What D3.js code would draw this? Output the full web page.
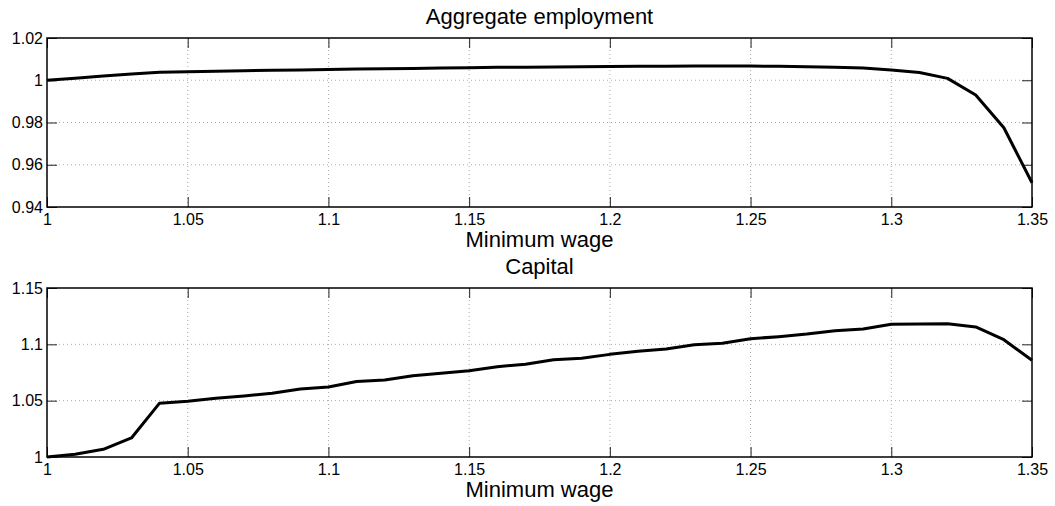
<!DOCTYPE html>
<html><head><meta charset="utf-8">
<script src="https://cdn.jsdelivr.net/npm/d3@7"></script>
<style>
html,body{margin:0;padding:0;background:#fff;}
svg{display:block;font-family:"Liberation Sans",Arial,Helvetica,sans-serif;}
</style></head>
<body>
<svg id="chart" width="1055" height="506"></svg>
<script>
const minWage = [1.00,1.01,1.02,1.03,1.04,1.05,1.06,1.07,1.08,1.09,1.10,1.11,1.12,1.13,1.14,1.15,1.16,1.17,1.18,1.19,1.20,1.21,1.22,1.23,1.24,1.25,1.26,1.27,1.28,1.29,1.30,1.31,1.32,1.33,1.34,1.35];
const employment = [1.0000,1.0010,1.0020,1.0030,1.0038,1.0040,1.0043,1.0045,1.0047,1.0049,1.0051,1.0053,1.0055,1.0056,1.0058,1.0059,1.0061,1.0062,1.0063,1.0064,1.0065,1.0066,1.0066,1.0067,1.0067,1.0067,1.0066,1.0064,1.0062,1.0058,1.0049,1.0037,1.0009,0.9930,0.9775,0.9515];
const capital = [1.0000,1.0024,1.0068,1.0169,1.0478,1.0494,1.0522,1.0542,1.0566,1.0604,1.0621,1.0670,1.0683,1.0722,1.0743,1.0766,1.0802,1.0824,1.0864,1.0876,1.0911,1.0938,1.0959,1.0997,1.1009,1.1050,1.1068,1.1091,1.1121,1.1136,1.1179,1.1180,1.1182,1.1154,1.1041,1.0858];
const xTicks = [1,1.05,1.1,1.15,1.2,1.25,1.3,1.35];
const xTickLabels = ["1","1.05","1.1","1.15","1.2","1.25","1.3","1.35"];
const empTicks = [0.94,0.96,0.98,1,1.02];
const empTickLabels = ["0.94","0.96","0.98","1","1.02"];
const capTicks = [1,1.05,1.1,1.15];
const capTickLabels = ["1","1.05","1.1","1.15"];
const titles = ["Aggregate employment","Capital"];
const xLabel = "Minimum wage";

const svg = d3.select("#chart");
const left = 47, right = 1032;

function panel(top, bottom, yDomain, yTicks, yLabels, values, title) {
  const x = d3.scaleLinear().domain([1,1.35]).range([left,right]);
  const y = d3.scaleLinear().domain(yDomain).range([bottom,top]);
  const g = svg.append("g");
  const tl = 10;
  // grid
  g.selectAll(".gx").data(xTicks.slice(1,-1)).join("line")
    .attr("x1",d=>x(d)).attr("x2",d=>x(d)).attr("y1",top).attr("y2",bottom)
    .attr("stroke","#aaa").attr("stroke-width",1).attr("stroke-dasharray","1,3");
  g.selectAll(".gy").data(yTicks.slice(1,-1)).join("line")
    .attr("y1",d=>y(d)).attr("y2",d=>y(d)).attr("x1",left).attr("x2",right)
    .attr("stroke","#aaa").attr("stroke-width",1).attr("stroke-dasharray","1,3");
  // ticks (inward, on all four sides)
  const axB = d3.axisBottom(x).tickValues(xTicks).tickFormat((d,i)=>xTickLabels[i]).tickSizeInner(-tl).tickSizeOuter(0).tickPadding(7);
  const axT = d3.axisTop(x).tickValues(xTicks).tickFormat("").tickSizeInner(-tl).tickSizeOuter(0);
  const axL = d3.axisLeft(y).tickValues(yTicks).tickFormat((d,i)=>yLabels[i]).tickSizeInner(-tl).tickSizeOuter(0).tickPadding(4);
  const axR = d3.axisRight(y).tickValues(yTicks).tickFormat("").tickSizeInner(-tl).tickSizeOuter(0);
  const styleAx = sel => {
    sel.select(".domain").remove();
    sel.selectAll(".tick line").attr("stroke","#222").attr("stroke-width",1);
    sel.selectAll(".tick text").attr("fill","#000").style("font-size","16px").style("font-family","'Liberation Sans',Arial,sans-serif");
  };
  g.append("g").attr("transform",`translate(0,${bottom})`).call(axB).call(styleAx);
  g.append("g").attr("transform",`translate(0,${top})`).call(axT).call(styleAx);
  g.append("g").attr("transform",`translate(${left},0)`).call(axL).call(styleAx);
  g.append("g").attr("transform",`translate(${right},0)`).call(axR).call(styleAx);
  // line
  const line = d3.line().x((d,i)=>x(minWage[i])).y(d=>y(d));
  g.append("path").datum(values).attr("d",line).attr("fill","none")
    .attr("stroke","#000").attr("stroke-width",3).attr("stroke-linejoin","round");
  // box
  g.append("rect").attr("x",left).attr("y",top).attr("width",right-left).attr("height",bottom-top)
    .attr("fill","none").attr("stroke","#000").attr("stroke-width",1.5);
  // title
  g.append("text").attr("x",(left+right)/2).attr("y",top-14).attr("text-anchor","middle")
    .style("font-size","22px").attr("fill","#000").text(title);
  // x label
  g.append("text").attr("x",(left+right)/2).attr("y",bottom+40).attr("text-anchor","middle")
    .style("font-size","22px").attr("fill","#000").text(xLabel);
}

panel(38, 207, [0.94,1.02], empTicks, empTickLabels, employment, titles[0]);
panel(288, 457, [1,1.15], capTicks, capTickLabels, capital, titles[1]);
</script>
</body></html>
